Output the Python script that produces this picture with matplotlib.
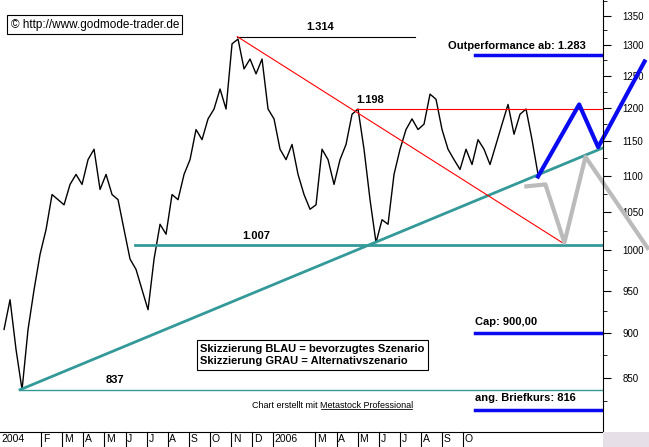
import numpy as np
import matplotlib
matplotlib.use("Agg")
import matplotlib.pyplot as plt
from matplotlib.transforms import blended_transform_factory

plt.rcParams['font.family'] = ['Liberation Sans', 'DejaVu Sans']

price = [904,939,881,837,904,951,995,1027,1074,1067,1060,1088,1102,1088,1123,1138,
         1081,1102,1074,1067,1027,989,976,951,927,989,1034,1021,1074,1067,1102,1123,
         1167,1152,1183,1198,1229,1198,1302,1310,1261,1277,1253,1277,1198,1183,1138,
         1123,1145,1102,1074,1054,1060,1138,1123,1088,1123,1145,1190,1198,1138,1067,
         1010,1040,1034,1102,1138,1167,1183,1167,1175,1221,1213,1167,1138,1123,1109,
         1138,1116,1152,1138,1116,1145,1175,1205,1160,1190,1198,1152,1102]
months = np.linspace(-0.758, 24.55, len(price))

blue_x = [24.55, 26.5, 27.4, 29.6]
blue_y = [1099, 1205, 1141, 1273]
grey_x = [23.9, 24.9, 25.8, 26.8, 29.8]
grey_y = [1085, 1088, 1010, 1127, 1001]

tick_labels = ['2004','F','M','A','M','J','J','A','S','O','N','D','2006','M','A','M','J','J','A','S','O']
tick_pos = [0,1,2,3,4,5,6,7,8,9,10,11,12,14,15,16,17,18,19,20,21]

fig = plt.figure(figsize=(6.49, 4.47), dpi=100)
ax = fig.add_axes([0, 15/447, 603/649, 432/447])
ax.set_yscale('log')
xmin, xmax = -0.95, 27.63
ax.set_xlim(xmin, xmax)
ax.set_ylim(793, 1377)

teal = '#339999'
ax.plot(months, price, color='black', lw=1)
ax.plot([0, xmax], [837, 1140], color=teal, lw=2)
ax.plot([5.45, xmax], [1007, 1007], color=teal, lw=2)
ax.plot([0, xmax], [837, 837], color=teal, lw=1)
ax.plot([10.3, 18.7], [1314, 1314], color='black', lw=0.8)
ax.plot([10.3, 25.7], [1314, 1010], color='red', lw=0.8)
ax.plot([15.9, xmax], [1198, 1198], color='red', lw=0.8)
ax.plot(grey_x, grey_y, color='#bbbbbb', lw=3, clip_on=False, solid_capstyle='butt')
ax.plot(blue_x, blue_y, color='#0a0af0', lw=3, clip_on=False)

for y in [1283, 900, 816]:
    ax.plot([21.55, xmax], [y, y], color='#0a0af0', lw=2.5)

kw = dict(fontsize=8, fontweight='bold', family=['Liberation Sans Narrow', 'Liberation Sans'])
ax.text(14.2, 1322, '1.314', ha='center', va='bottom', **kw)
ax.text(16.6, 1204, '1.198', ha='center', va='bottom', **kw)
ax.text(11.2, 1012, '1.007', ha='center', va='bottom', **kw)
ax.text(4.5, 842, '837', ha='center', va='bottom', **kw)
ax.text(20.3, 1290, 'Outperformance ab: 1.283', ha='left', va='bottom', **kw)
ax.text(21.55, 907, 'Cap: 900,00', ha='left', va='bottom', **kw)
ax.text(21.55, 823, 'ang. Briefkurs: 816', ha='left', va='bottom', **kw)
ax.text(8.55, 875, 'Skizzierung BLAU = bevorzugtes Szenario\nSkizzierung GRAU = Alternativszenario',
        ha='left', va='center', linespacing=1.3,
        bbox=dict(boxstyle='square,pad=0.3', fc='white', ec='black', lw=0.8), **kw)
ax.text(14.2, 820, 'Chart erstellt mit ', ha='right', va='center', fontsize=6.5)
ax.text(14.2, 820, 'Metastock Professional', ha='left', va='center', fontsize=6.5)
ax.plot([14.25, 18.6], [816.5, 816.5], color='black', lw=0.6)
ax.text(-0.45, 1334, '\u00a9 http://www.godmode-trader.de', ha='left', va='center', fontsize=8.5,
        bbox=dict(boxstyle='square,pad=0.3', fc='white', ec='black', lw=0.8))

# y-axis on right
ax.yaxis.tick_right()
yt = [850, 900, 950, 1000, 1050, 1100, 1150, 1200, 1250, 1300, 1350]
ax.set_yticks(yt)
ax.set_yticklabels([str(v) for v in yt], fontsize=7)
ax.yaxis.set_minor_locator(matplotlib.ticker.FixedLocator([825, 875, 925, 975, 1025, 1075, 1125, 1175, 1225, 1275, 1325, 1375]))
ax.yaxis.set_minor_formatter(matplotlib.ticker.NullFormatter())
ax.tick_params(axis='y', which='major', length=6, pad=8, direction='out')
ax.tick_params(axis='y', which='minor', length=3, direction='out')
for s in ['left', 'top']:
    ax.spines[s].set_visible(False)
ax.set_xticks([])

# month strip
tr = blended_transform_factory(ax.transData, ax.transAxes)
for p, lab in zip(tick_pos, tick_labels):
    if p > 0:
        ax.plot([p, p], [0, -15/432], color='black', lw=0.8, transform=tr, clip_on=False)
        xp = p
    else:
        xp = xmin
    ax.text(xp + 0.08, -7.5/432, lab, transform=tr, ha='left', va='center', fontsize=7.5, clip_on=False)
fig.patches.append(matplotlib.patches.Rectangle((603/649, 0), 46/649, 15/447, transform=fig.transFigure,
                                                 fc='#e6dfe8', ec='none'))
fig.savefig('out.png', dpi=100)
